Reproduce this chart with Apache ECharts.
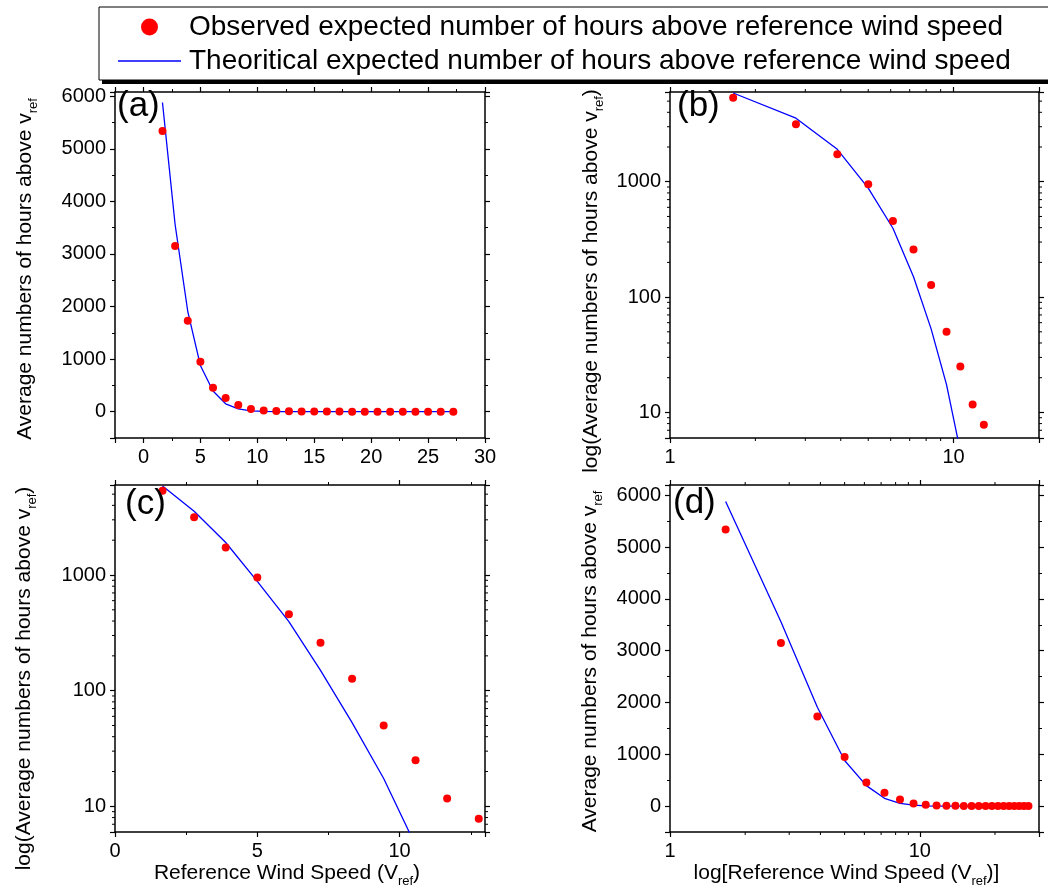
<!DOCTYPE html>
<html>
<head>
<meta charset="utf-8">
<title>Wind speed hours</title>
<script src="https://cdn.jsdelivr.net/npm/echarts@6/dist/echarts.min.js"></script>
<style>
  html, body { margin: 0; padding: 0; background: #fff; }
  #chart { width: 1048px; height: 888px; }
</style>
</head>
<body>
<div id="chart"></div>
<script>
// reference wind speed bins (m/s)
var windSpeed = [1.67, 2.78, 3.89, 5.0, 6.11, 7.22, 8.33, 9.44, 10.56, 11.67, 12.78, 13.89,
  15.0, 16.11, 17.22, 18.33, 19.44, 20.56, 21.67, 22.78, 23.89, 25.0, 26.11, 27.22]
// observed average hours above v_ref
var observedHours = [5340, 3150, 1730, 950, 457, 259, 127, 50, 25, 11.7, 7.8, 5.0,
  3.6, 2.6, 1.9, 1.4, 1.0, 0.75, 0.55, 0.4, 0.3, 0.2, 0.15, 0.1]
// theoretical (fitted) hours above v_ref
var theoreticalHours = [5880, 3560, 1910, 880, 395, 150, 53, 17.4, 4.6, 1.1, 0.25, 0.05,
  0.01, 0.002, 0.0004, 0.0001, 0.00002, 0.000004, 0.000001, 0.0000002, 0.00000005,
  0.00000001, 0.000000002, 0.0000000005]
// minor tick values used on the log axes
var logMinorTicks = [2, 3, 4, 5, 6, 7, 8, 9, 20, 30, 40, 50, 60, 70, 80, 90,
  200, 300, 400, 500, 600, 700, 800, 900, 2000, 3000, 4000, 5000, 6000, 7000, 8000, 9000]

var observedName = 'Observed expected number of hours above reference wind speed'
var theoryName = 'Theoritical expected number of hours above reference wind speed'
var panelLabels = ['(a)', '(b)', '(c)', '(d)']

var FONT = '"Liberation Sans", Arial, sans-serif'

var chart = echarts.init(document.getElementById('chart'))

var grids = [
  { left: 115, top: 92, width: 370, height: 346 },
  { left: 670, top: 92, width: 369, height: 346 },
  { left: 115, top: 485, width: 370, height: 347 },
  { left: 670, top: 485, width: 369, height: 347 }
]

var richName = {
  a: { fontSize: 21, fontFamily: FONT, color: '#000', lineHeight: 30 },
  s: { fontSize: 13, fontFamily: FONT, color: '#000', lineHeight: 13, verticalAlign: 'bottom' }
}

function logLabel (v) {
  var l = Math.log10(v)
  return Math.abs(l - Math.round(l)) < 1e-6 ? String(Math.round(v)) : ''
}

function makeAxis (gridIndex, pos, type, min, max, opt, mirror) {
  opt = opt || {}
  var axis = {
    gridIndex: gridIndex,
    type: type,
    position: pos,
    min: min,
    max: max,
    axisLine: { show: true, onZero: false, lineStyle: { color: '#000', width: 1.5 } },
    axisTick: { show: true, length: 5, lineStyle: { color: '#000', width: 1.2 } },
    minorTick: { show: type !== 'log', splitNumber: 2, length: 3, lineStyle: { color: '#000', width: 1 } },
    splitLine: { show: false },
    minorSplitLine: { show: false },
    axisLabel: {
      show: !mirror,
      color: '#000',
      fontSize: 20,
      fontFamily: FONT,
      margin: 9,
      showMinLabel: opt.showMin !== false,
      showMaxLabel: opt.showMax !== false,
      formatter: function (v) { return String(v) }
    }
  }
  if (type === 'log') {
    axis.logBase = 10
    axis.axisLabel.formatter = logLabel
  }
  if (opt.interval) axis.interval = opt.interval
  if (!mirror && opt.name) {
    axis.name = opt.name
    axis.nameLocation = 'middle'
    axis.nameGap = opt.nameGap
    axis.nameRotate = opt.nameRotate || 0
    axis.nameTextStyle = { rich: richName, padding: opt.namePad || 0 }
  }
  return axis
}

var yTitle = '{a|Average numbers of hours above v}{s|ref}'
var yLogTitle = '{a|log(Average numbers of hours above v}{s|ref}{a|)}'

var xSpecs = [
  ['value', -2.5, 30, { showMin: false }],
  ['log', 1, 20, {}],
  ['value', 0, 13, { interval: 5, showMax: false, name: '{a|Reference Wind Speed (V}{s|ref}{a|)}', nameGap: 26, namePad: [0, 26, 0, 0] }],
  ['log', 1, 30, { name: '{a|log[Reference Wind Speed (V}{s|ref}{a|)]}', nameGap: 26, namePad: [0, 16, 0, 0] }]
]
var ySpecs = [
  ['value', -500, 6080, { showMin: false, showMax: false, name: yTitle, nameGap: 75, nameRotate: 90, namePad: [0, 8, 0, 0] }],
  ['log', 6, 6000, { name: yLogTitle, nameGap: 64, nameRotate: 90, namePad: [0, 32, 0, 0] }],
  ['log', 6, 6000, { name: yLogTitle, nameGap: 76, nameRotate: 90, namePad: [0, 40, 0, 0] }],
  ['value', -500, 6200, { showMin: false, showMax: false, name: yTitle, nameGap: 65, nameRotate: 90, namePad: [0, 6, 0, 0] }]
]

var xAxes = []
var yAxes = []
for (var i = 0; i < 4; i++) {
  xAxes.push(makeAxis(i, 'bottom', xSpecs[i][0], xSpecs[i][1], xSpecs[i][2], xSpecs[i][3], false))
  yAxes.push(makeAxis(i, 'left', ySpecs[i][0], ySpecs[i][1], ySpecs[i][2], ySpecs[i][3], false))
}
// mirrored frame axes on top / right
for (var j = 0; j < 4; j++) {
  xAxes.push(makeAxis(j, 'top', xSpecs[j][0], xSpecs[j][1], xSpecs[j][2], xSpecs[j][3], true))
  yAxes.push(makeAxis(j, 'right', ySpecs[j][0], ySpecs[j][1], ySpecs[j][2], ySpecs[j][3], true))
}

var observedData = windSpeed.map(function (x, k) { return [x, observedHours[k]] })
var theoryData = windSpeed.map(function (x, k) { return [x, theoreticalHours[k]] })

var series = []
for (var g = 0; g < 4; g++) {
  series.push({
    name: theoryName,
    type: 'line',
    xAxisIndex: g,
    yAxisIndex: g,
    data: theoryData,
    symbol: 'none',
    clip: true,
    z: 2,
    lineStyle: { color: '#0000ff', width: 1.3 },
    itemStyle: { color: '#0000ff' }
  })
  series.push({
    name: observedName,
    type: 'scatter',
    xAxisIndex: g,
    yAxisIndex: g,
    data: observedData,
    symbol: 'circle',
    symbolSize: 8,
    clip: true,
    z: 3,
    itemStyle: { color: '#ff0000', opacity: 1 }
  })
}

// minor ticks (2..9 per decade) on log axes, drawn outward on both frame sides
function logTickSeries (g, dim, lo, hi, otherLo, otherHi) {
  var vals = logMinorTicks.filter(function (v) { return v > lo && v < hi })
  return {
    type: 'custom',
    xAxisIndex: g,
    yAxisIndex: g,
    silent: true,
    clip: false,
    z: 4,
    data: vals.map(function (v) { return dim === 'x' ? [v, otherLo] : [otherLo, v] }),
    renderItem: function (params, api) {
      var v = dim === 'x' ? api.value(0) : api.value(1)
      var a = api.coord(dim === 'x' ? [v, otherLo] : [otherLo, v])
      var b = api.coord(dim === 'x' ? [v, otherHi] : [otherHi, v])
      var st = { stroke: '#000', lineWidth: 1 }
      if (dim === 'x') {
        return { type: 'group', children: [
          { type: 'line', shape: { x1: a[0], y1: a[1], x2: a[0], y2: a[1] + 3 }, style: st },
          { type: 'line', shape: { x1: b[0], y1: b[1], x2: b[0], y2: b[1] - 3 }, style: st }
        ] }
      }
      return { type: 'group', children: [
        { type: 'line', shape: { x1: a[0], y1: a[1], x2: a[0] - 3, y2: a[1] }, style: st },
        { type: 'line', shape: { x1: b[0], y1: b[1], x2: b[0] + 3, y2: b[1] }, style: st }
      ] }
    }
  }
}
series.push(logTickSeries(1, 'x', 1, 20, 6, 6000))
series.push(logTickSeries(1, 'y', 6, 6000, 1, 20))
series.push(logTickSeries(2, 'y', 6, 6000, 0, 13))
series.push(logTickSeries(3, 'x', 1, 30, -500, 6200))

var labelPos = [[117, 89], [677, 89], [125, 487], [673, 486]]
var graphics = panelLabels.map(function (t, k) {
  return {
    type: 'text',
    x: labelPos[k][0],
    y: labelPos[k][1],
    z: 10,
    style: { text: t, fill: '#000', font: '35px ' + FONT, verticalAlign: 'top', align: 'left' }
  }
})
// legend drop shadow
graphics.push({
  type: 'rect',
  z: 0,
  shape: { x: 102, y: 11, width: 980, height: 73 },
  style: { fill: '#000' }
})

chart.setOption({
  animation: false,
  backgroundColor: '#fff',
  grid: grids.map(function (gr) {
    return Object.assign({ containLabel: false, outerBoundsMode: 'none' }, gr)
  }),
  legend: {
    left: 99,
    top: 7,
    z: 5,
    orient: 'vertical',
    itemWidth: 63,
    itemHeight: 17,
    itemGap: 4,
    padding: [5, 60, 4, 19],
    borderColor: '#000',
    borderWidth: 1,
    backgroundColor: '#fff',
    selectedMode: false,
    textStyle: { color: '#000', fontSize: 28, fontFamily: FONT, lineHeight: 30, padding: [0, 0, 0, 3] },
    data: [
      { name: observedName, icon: 'circle' },
      { name: theoryName, icon: 'path://M0,0H63V1.3H0Z' }
    ]
  },
  xAxis: xAxes,
  yAxis: yAxes,
  series: series,
  graphic: graphics
})
</script>
</body>
</html>
